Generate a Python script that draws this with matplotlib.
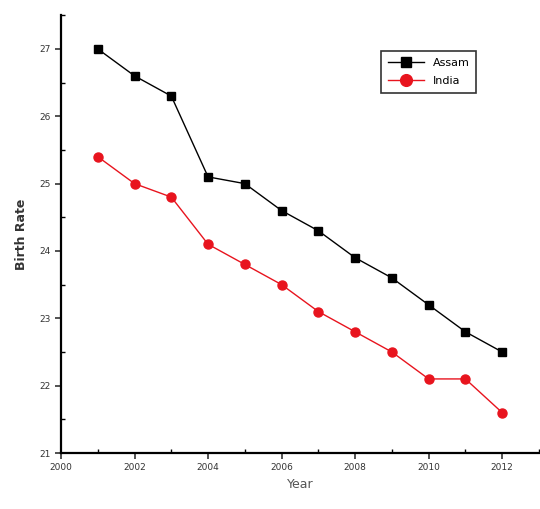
import numpy as np
import matplotlib.pyplot as plt
from matplotlib.ticker import MultipleLocator

years = [2001, 2002, 2003, 2004, 2005, 2006, 2007, 2008, 2009, 2010, 2011, 2012]
assam = [27.0, 26.6, 26.3, 25.1, 25.0, 24.6, 24.3, 23.9, 23.6, 23.2, 22.8, 22.5]
india = [25.4, 25.0, 24.8, 24.1, 23.8, 23.5, 23.1, 22.8, 22.5, 22.1, 22.1, 21.6]

fig = plt.figure(figsize=(5.4, 5.09), dpi=100)
ax = fig.add_axes([0.113, 0.110, 0.885, 0.860])

ax.plot(years, assam, color="black", lw=1.0, marker="s", ms=6,
        label="Assam")
ax.plot(years, india, color="#e8141e", lw=1.0, marker="o", ms=6.5,
        label="India")

ax.set_xlim(2000, 2013)
ax.set_ylim(21, 27.5)
ax.xaxis.set_major_locator(MultipleLocator(2))
ax.xaxis.set_minor_locator(MultipleLocator(1))
ax.yaxis.set_major_locator(MultipleLocator(1))
ax.yaxis.set_minor_locator(MultipleLocator(0.5))

for s in ["top", "right"]:
    ax.spines[s].set_visible(False)
for s in ["left", "bottom"]:
    ax.spines[s].set_linewidth(1.6)

ax.tick_params(which="major", direction="out", length=4, width=1.2,
               labelsize=6.5, colors="#333333")
ax.tick_params(which="minor", direction="in", length=3, width=1.0)

ax.set_xlabel("Year", fontsize=9, color="#555555")
ax.set_ylabel("Birth Rate", fontsize=9, color="#333333", fontweight="bold",
              labelpad=8)

leg = ax.legend(loc="upper right", bbox_to_anchor=(0.88, 0.93), fontsize=8,
                fancybox=False, edgecolor="#333333", framealpha=1,
                handlelength=3.2, borderpad=0.6, labelspacing=0.7,
                markerscale=1.3)
leg.get_frame().set_linewidth(1.2)

fig.savefig("out.png", dpi=100)
